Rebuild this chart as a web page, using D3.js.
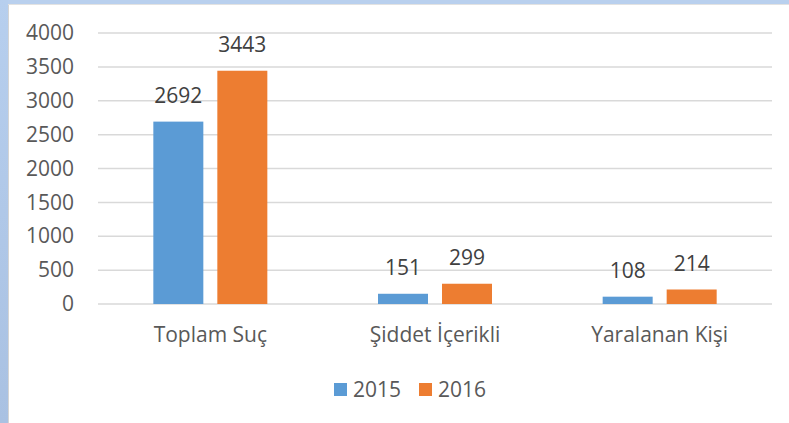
<!DOCTYPE html>
<html>
<head>
<meta charset="utf-8">
<script src="https://cdn.jsdelivr.net/npm/d3@7"></script>
<style>
  body { margin: 0; background: #fff; }
  text { font-family: "Open Sans", "Noto Sans", sans-serif; }
</style>
</head>
<body>
<div id="wrapper"></div>
<script>
// chart data
const categories = ["Toplam Suç", "Şiddet İçerikli", "Yaralanan Kişi"]
const years = ["2015", "2016"]
const values2015 = [2692, 151, 108]
const values2016 = [3443, 299, 214]
const yTicks = [0, 500, 1000, 1500, 2000, 2500, 3000, 3500, 4000]
const colors = ["#5b9bd5", "#ed7d31"]

const series = [values2015, values2016]

const fontSize = "21px"

const dimensions = {
  width: 789,
  height: 423,
  margin: { top: 33, right: 17, bottom: 119, left: 98 }
}
dimensions.boundedWidth = dimensions.width - dimensions.margin.left - dimensions.margin.right
dimensions.boundedHeight = dimensions.height - dimensions.margin.top - dimensions.margin.bottom

const wrapper = d3.select("#wrapper")
  .append("svg")
    .attr("width", dimensions.width)
    .attr("height", dimensions.height)

// frame of the slide: blue band top and left
const grad = wrapper.append("defs").append("linearGradient")
  .attr("id", "band")
  .attr("x1", 0).attr("x2", 0).attr("y1", 0).attr("y2", 1)
grad.append("stop").attr("offset", "0%").attr("stop-color", "#b7cfee")
grad.append("stop").attr("offset", "100%").attr("stop-color", "#a9c1e2")

wrapper.append("rect")
  .attr("x", 0).attr("y", 0)
  .attr("width", dimensions.width).attr("height", 4)
  .attr("fill", "#b9d0ee")
wrapper.append("rect")
  .attr("x", 0).attr("y", 0)
  .attr("width", 8).attr("height", dimensions.height)
  .attr("fill", "url(#band)")
wrapper.append("line")
  .attr("x1", 8.5).attr("x2", 8.5).attr("y1", 4).attr("y2", dimensions.height)
  .attr("stroke", "#d4d4d4")
wrapper.append("line")
  .attr("x1", 8).attr("x2", dimensions.width).attr("y1", 4.5).attr("y2", 4.5)
  .attr("stroke", "#e2e2e2")

const bounds = wrapper.append("g")
  .attr("transform", `translate(${dimensions.margin.left}, ${dimensions.margin.top})`)

// scales
const xScale = d3.scaleBand()
  .domain(categories)
  .range([0, dimensions.boundedWidth])

const yScale = d3.scaleLinear()
  .domain([0, 4000])
  .range([dimensions.boundedHeight, 0])

const barWidth = 50
const barGap = 14

// gridlines
bounds.append("g")
  .selectAll("line")
  .data(yTicks)
  .join("line")
    .attr("x1", 0)
    .attr("x2", dimensions.boundedWidth)
    .attr("y1", d => yScale(d))
    .attr("y2", d => yScale(d))
    .attr("stroke", "#d9d9d9")
    .attr("stroke-width", 1.5)

// y axis labels
const yAxisGenerator = d3.axisLeft(yScale)
  .tickValues(yTicks)
  .tickFormat(d3.format("d"))
  .tickSize(0)
  .tickPadding(24)
const yAxis = bounds.append("g").call(yAxisGenerator)
yAxis.select(".domain").remove()
yAxis.selectAll("text")
  .attr("fill", "#595959")
  .style("font-size", fontSize)
  .style("font-family", "'Open Sans', sans-serif")

// bars
const barX = (cat, i) => xScale(cat) + xScale.bandwidth() / 2
  + (i === 0 ? -barGap / 2 - barWidth : barGap / 2)

series.forEach((vals, i) => {
  const group = bounds.append("g")
  const data = categories.map((c, j) => ({ cat: c, value: vals[j] }))

  group.selectAll("rect")
    .data(data)
    .join("rect")
      .attr("x", d => barX(d.cat, i))
      .attr("y", d => yScale(d.value))
      .attr("width", barWidth)
      .attr("height", d => dimensions.boundedHeight - yScale(d.value))
      .attr("fill", colors[i])

  group.selectAll("text")
    .data(data)
    .join("text")
      .attr("x", d => barX(d.cat, i) + barWidth / 2)
      .attr("y", d => yScale(d.value) - 19)
      .attr("text-anchor", "middle")
      .attr("fill", "#404040")
      .style("font-size", fontSize)
      .text(d => d.value)
})

// category labels
const xAxisGenerator = d3.axisBottom(xScale)
  .tickSize(0)
const xAxis = bounds.append("g")
  .attr("transform", `translate(0, ${dimensions.boundedHeight})`)
  .call(xAxisGenerator)
xAxis.select(".domain").remove()
xAxis.selectAll("text")
  .attr("y", 38)
  .attr("dy", null)
  .attr("fill", "#595959")
  .style("font-size", fontSize)
  .style("font-family", "'Open Sans', sans-serif")

// legend
const legend = wrapper.append("g")
  .attr("transform", "translate(334, 383)")
const legendItems = legend.selectAll("g")
  .data(years)
  .join("g")
    .attr("transform", (d, i) => `translate(${i * 85}, 0)`)
legendItems.append("rect")
  .attr("width", 13)
  .attr("height", 13)
  .attr("fill", (d, i) => colors[i])
legendItems.append("text")
  .attr("x", 19)
  .attr("y", 14)
  .attr("fill", "#595959")
  .style("font-size", fontSize)
  .text(d => d)
</script>
</body>
</html>
